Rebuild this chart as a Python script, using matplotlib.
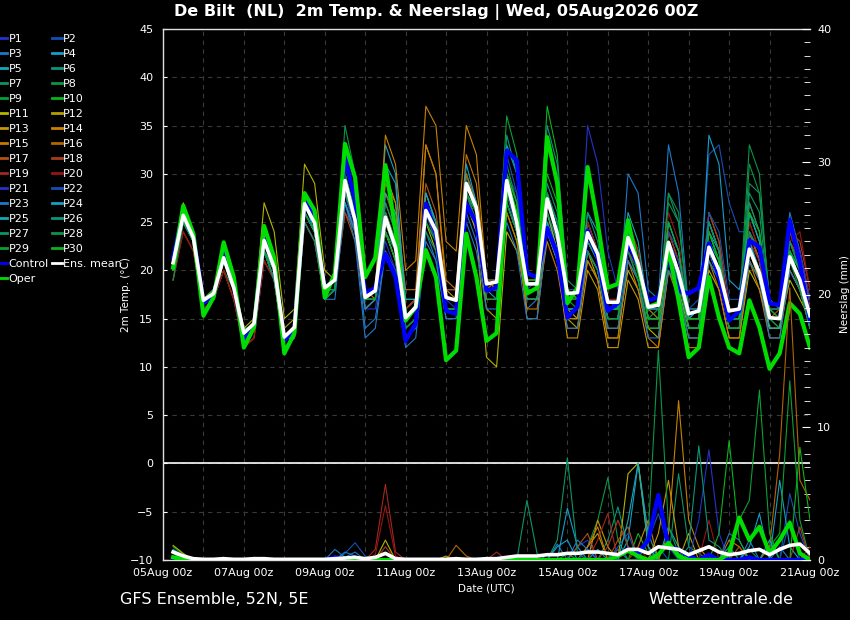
import numpy as np
import matplotlib
matplotlib.use("Agg")
import matplotlib.pyplot as plt
from matplotlib.lines import Line2D
from matplotlib.ticker import MultipleLocator

# forecast steps (hours after 05Aug2026 00z), 6-hourly
hours = list(range(6, 385, 6))
date_labels = ['05Aug 00z', '07Aug 00z', '09Aug 00z', '11Aug 00z', '13Aug 00z',
               '15Aug 00z', '17Aug 00z', '19Aug 00z', '21Aug 00z']

# 2m temperature (deg C), perturbed members
p1 = [21,26,24, 17,18,21,18, 13,14,23,20, 13,14,27,25, 18,18,28,24, 16,17,24,21, 15,16,25,23, 17,16,27,25, 18,18,30,28, 19,19,26,22, 17,17,35,31, 22,18,23,20, 16,16,21,19, 15,15,23,21, 16,16,24,21, 15,14,20,18, 15]
p2 = [20,25,23, 17,17,21,18, 14,14,22,20, 13,14,26,24, 18,19,28,25, 17,18,25,22, 16,17,27,24, 17,17,29,26, 19,19,28,24, 18,18,26,23, 17,17,23,21, 16,16,23,21, 16,16,22,20, 16,17,32,33, 27,24,24,21, 16,16,22,20, 16]
p3 = [20,26,23, 17,17,21,18, 13,14,22,19, 13,13,26,24, 17,18,27,24, 14,15,22,20, 13,14,24,21, 15,15,26,23, 17,17,27,24, 16,17,24,21, 15,15,22,20, 15,15,30,28, 18,17,33,28, 16,16,24,21, 15,15,26,23, 15,15,26,22, 16]
p4 = [20,25,23, 17,18,21,18, 13,14,23,20, 13,14,27,24, 18,19,29,25, 17,18,33,30, 16,17,27,25, 18,18,30,26, 19,18,29,25, 18,18,27,24, 17,17,24,22, 16,16,23,21, 16,16,22,20, 15,16,34,31, 19,18,24,21, 15,15,22,19, 15]
p5 = [21,26,24, 16,17,21,18, 13,14,22,19, 12,13,25,23, 17,18,27,24, 16,17,24,21, 14,15,26,23, 16,16,28,25, 18,18,28,25, 18,18,28,25, 18,17,25,22, 16,16,24,21, 15,15,23,20, 15,15,24,22, 15,15,22,19, 14,14,21,19, 14]
p6 = [20,26,23, 17,17,21,18, 14,14,23,20, 13,14,26,24, 18,19,30,26, 17,18,26,23, 15,16,27,24, 17,17,30,27, 19,19,30,26, 19,19,29,26, 18,17,23,21, 17,16,22,20, 15,15,25,22, 15,16,25,22, 16,16,24,21, 15,15,22,19, 15]
p7 = [19,25,23, 17,17,20,18, 13,14,22,19, 12,13,26,24, 17,18,28,25, 17,18,24,22, 15,16,25,23, 16,16,28,26, 18,18,29,25, 18,18,26,22, 16,16,22,20, 15,15,22,19, 14,14,22,19, 14,14,21,19, 15,15,29,28, 17,16,23,20, 16]
p8 = [20,26,23, 17,17,21,18, 13,14,23,20, 13,14,27,25, 18,19,35,30, 17,17,24,21, 15,16,26,24, 17,17,28,26, 19,19,31,27, 18,18,27,24, 17,17,23,21, 16,16,23,20, 16,15,27,25, 16,16,24,21, 16,16,33,30, 16,15,22,19, 15]
p9 = [20,26,23, 17,17,21,18, 13,14,22,20, 13,13,26,24, 17,18,30,26, 16,17,26,23, 14,15,26,24, 16,16,29,27, 18,19,36,32, 19,19,27,24, 17,17,24,21, 16,16,23,21, 15,16,23,20, 15,15,24,21, 15,15,23,20, 15,15,21,19, 16]
p10 = [21,26,23, 17,18,22,19, 13,14,23,20, 13,14,27,25, 18,19,29,25, 17,18,25,22, 15,16,25,23, 17,17,28,25, 18,18,29,26, 19,19,37,32, 18,17,25,22, 16,16,24,21, 16,16,22,20, 15,15,24,21, 15,15,26,23, 15,14,22,19, 15]
p11 = [21,27,24, 17,18,22,19, 14,15,27,24, 15,16,31,29, 20,19,28,25, 17,18,24,21, 15,16,25,22, 16,16,27,24, 11,10,24,22, 17,17,26,22, 16,15,21,19, 14,14,20,18, 14,13,21,18, 14,14,20,18, 13,13,20,18, 14,14,19,17, 15]
p12 = [20,25,23, 16,17,21,18, 13,14,24,21, 14,15,28,26, 18,19,27,24, 17,18,26,23, 15,16,26,24, 17,17,27,24, 16,15,26,23, 17,17,25,22, 15,14,22,19, 13,13,21,19, 14,14,22,20, 14,14,23,20, 14,14,21,19, 15,15,23,21, 16]
p13 = [20,26,23, 17,17,21,18, 13,14,22,20, 13,14,27,25, 18,19,28,25, 17,18,30,27, 16,17,33,30, 18,17,28,26, 17,17,28,25, 15,15,24,21, 13,13,20,18, 12,12,19,17, 12,12,20,18, 13,13,22,19, 14,14,22,19, 14,14,20,18, 14]
p14 = [21,26,24, 17,17,21,18, 13,14,23,20, 13,14,27,25, 18,19,29,25, 17,18,34,31, 20,21,37,35, 23,22,35,32, 19,18,27,24, 17,17,24,21, 15,15,22,20, 15,15,23,20, 15,15,24,21, 16,16,25,22, 16,16,24,21, 15,15,21,19, 16]
p15 = [20,26,24, 17,17,21,18, 13,14,22,19, 12,13,26,24, 17,18,27,24, 18,17,29,27, 18,18,33,30, 19,18,32,29, 19,18,26,23, 16,16,23,20, 14,14,21,19, 13,13,21,18, 13,12,20,17, 12,12,21,18, 13,13,21,18, 13,13,20,18, 14]
p16 = [20,26,23, 17,17,21,18, 13,14,22,19, 13,14,26,24, 18,19,27,24, 17,17,28,25, 16,17,28,25, 17,17,30,27, 18,18,27,24, 17,17,27,24, 16,16,24,21, 16,16,25,22, 16,15,23,20, 15,15,26,23, 16,16,27,24, 16,16,24,21, 17]
p17 = [20,25,23, 16,17,20,17, 12,13,21,19, 12,13,25,23, 17,18,26,23, 16,17,27,24, 16,17,29,26, 18,18,28,25, 18,19,30,27, 19,19,28,24, 18,17,25,22, 16,16,24,21, 15,15,23,20, 15,15,25,22, 15,15,24,21, 15,16,24,22, 17]
p18 = [19,24,22, 16,17,20,17, 12,13,21,19, 12,13,25,23, 17,18,26,24, 16,17,25,22, 15,16,27,25, 17,17,28,25, 18,18,30,27, 18,18,27,24, 17,17,23,21, 16,16,22,20, 15,15,22,20, 15,15,26,23, 16,16,25,22, 16,16,24,23, 18]
p19 = [20,25,23, 17,17,21,18, 13,14,22,20, 13,14,26,24, 18,18,28,25, 17,18,26,23, 16,17,26,24, 17,17,29,26, 19,19,29,26, 19,19,27,24, 18,18,24,22, 17,17,25,22, 16,16,24,21, 16,16,23,20, 15,15,23,21, 15,15,23,21, 16]
p20 = [19,24,22, 16,17,20,17, 12,13,21,19, 12,13,25,23, 17,18,27,24, 16,17,25,22, 15,16,26,23, 16,16,27,25, 18,18,28,25, 18,18,27,24, 17,17,25,22, 16,16,24,21, 16,16,26,23, 16,16,25,22, 16,16,25,22, 15,15,23,24, 18]
p21 = [20,26,23, 17,17,21,18, 13,14,22,20, 13,14,26,24, 17,18,28,24, 16,16,23,20, 14,15,24,22, 16,16,27,25, 18,18,28,25, 18,18,25,22, 16,16,22,20, 15,15,22,19, 15,15,23,21, 16,16,23,20, 15,15,24,22, 16,16,25,22, 17]
p22 = [20,25,23, 17,17,21,18, 13,14,22,19, 13,14,26,24, 18,18,29,25, 17,17,25,22, 15,16,26,23, 16,16,28,25, 18,18,32,28, 18,19,28,25, 18,18,24,21, 17,16,23,21, 16,16,24,22, 16,16,26,24, 17,17,23,20, 15,15,21,19, 15]
p23 = [20,25,23, 17,17,21,18, 13,14,22,19, 13,13,26,24, 17,17,27,23, 13,14,22,19, 12,13,23,21, 15,15,25,22, 16,16,25,22, 15,15,24,21, 14,14,22,20, 14,14,21,19, 13,13,20,18, 13,13,21,19, 14,14,21,19, 13,13,20,18, 14]
p24 = [20,26,23, 17,17,21,18, 13,14,22,20, 13,14,26,24, 17,18,27,24, 16,17,31,29, 17,17,28,25, 17,17,31,27, 18,17,33,30, 18,18,28,24, 16,16,26,24, 16,16,24,21, 15,15,25,22, 15,16,25,22, 15,15,26,23, 15,15,23,20, 15]
p25 = [20,25,23, 17,17,21,18, 13,14,22,20, 13,14,26,24, 17,18,29,26, 17,17,28,26, 17,17,28,25, 17,17,29,26, 18,18,27,24, 17,17,25,22, 16,16,23,21, 16,16,26,23, 16,16,23,20, 14,14,22,19, 14,14,23,20, 14,14,22,20, 15]
p26 = [20,26,23, 17,17,21,18, 13,14,22,19, 12,13,25,23, 17,18,29,25, 17,17,27,24, 15,16,27,24, 16,16,29,26, 18,18,34,30, 20,19,35,31, 19,18,26,23, 16,16,24,21, 15,15,28,25, 16,16,25,22, 15,15,27,24, 15,15,21,19, 14]
p27 = [20,26,23, 17,17,21,18, 13,14,22,20, 13,14,26,24, 18,18,28,25, 17,17,26,23, 15,16,27,25, 17,17,28,26, 18,18,27,24, 17,17,26,23, 16,16,23,21, 15,15,24,21, 15,15,23,20, 15,15,25,22, 15,15,28,26, 16,16,22,19, 15]
p28 = [19,25,23, 17,17,21,18, 13,14,22,19, 12,13,26,24, 17,18,28,25, 17,18,25,22, 15,16,25,23, 16,16,28,25, 18,18,27,24, 18,18,28,25, 17,17,24,21, 15,15,23,21, 15,15,28,26, 15,15,23,21, 15,15,31,28, 17,16,23,20, 15]
p29 = [20,26,23, 17,17,21,18, 13,14,22,20, 13,13,26,24, 18,19,30,26, 17,17,24,21, 14,15,24,22, 16,16,27,25, 17,17,30,27, 19,19,28,24, 17,16,22,20, 15,15,22,19, 14,14,21,19, 14,14,22,20, 14,14,24,22, 15,15,21,18, 14]
p30 = [20,26,24, 17,18,22,19, 14,14,23,20, 13,14,27,25, 18,19,31,27, 17,18,25,22, 15,16,26,24, 17,17,29,26, 18,18,30,27, 19,19,30,27, 18,17,24,22, 16,16,23,21, 15,15,25,22, 15,15,23,21, 15,15,26,24, 16,15,22,20, 15]

control_t = [21.3, 26.2, 23.8, 16.6, 17.4, 21.9, 18.6, 12.7, 14.1, 23.8, 20.7, 12.7, 14.0, 27.2, 25.5, 17.9,
             19.3, 31.7, 27.2, 17.6, 18.2, 21.7, 19.3, 12.7, 14.5, 26.9, 23.8, 15.8, 15.5, 26.9, 24.9, 17.9,
             18.2, 32.4, 31.4, 19.7, 19.3, 24.4, 21.7, 15.1, 16.2, 24.1, 21.3, 15.8, 16.6, 23.1, 20.3, 16.9,
             17.2, 21.3, 17.9, 17.6, 18.2, 22.8, 19.3, 14.8, 15.8, 23.1, 22.4, 16.6, 16.4, 25.2, 20.7, 14.8]
oper_t = [20.3, 26.7, 23.8, 15.3, 17.2, 22.9, 19.3, 12.0, 14.1, 24.6, 21.3, 11.4, 13.5, 28.0, 26.2, 17.2,
          19.7, 33.1, 29.6, 19.3, 21.3, 30.9, 24.1, 14.8, 16.2, 22.1, 19.3, 10.7, 11.7, 23.8, 19.3, 12.7,
          13.5, 29.0, 25.5, 17.6, 18.2, 33.8, 29.0, 16.6, 18.2, 30.7, 24.9, 18.2, 18.6, 25.2, 20.3, 16.2,
          16.6, 22.1, 16.9, 11.0, 12.0, 19.3, 15.1, 12.0, 11.4, 16.9, 14.1, 9.8, 11.4, 16.6, 15.5, 12.0]
mean_t = [20.8, 25.7, 23.4, 16.9, 17.6, 21.3, 18.2, 13.5, 14.5, 23.1, 20.3, 13.1, 14.1, 26.9, 24.9, 18.2,
          19.0, 29.3, 25.2, 17.2, 17.9, 25.5, 22.4, 15.1, 16.2, 26.2, 24.1, 17.2, 16.9, 29.0, 26.5, 18.6,
          18.8, 29.3, 24.9, 18.6, 18.6, 27.4, 23.8, 17.6, 17.7, 23.9, 21.7, 16.7, 16.7, 23.4, 20.7, 16.2,
          16.4, 22.9, 19.7, 15.5, 15.8, 22.4, 20.0, 15.8, 16.0, 22.2, 19.7, 15.1, 15.0, 21.4, 19.0, 15.3]

# 6-hourly precipitation (mm): {step index: amount}, zero elsewhere
rain_p1 = {0: 0.3, 40: 1.0, 41: 1.5, 53: 0.5}
rain_p2 = {17: 0.5, 18: 1.3, 19: 0.3, 47: 1.5, 48: 3.5, 49: 1.0, 61: 5.0, 62: 2.0}
rain_p3 = {16: 0.8, 17: 0.2, 18: 0.6, 38: 1.2, 44: 0.8, 57: 1.5, 60: 1.0}
rain_p4 = {16: 0.3, 39: 3.9, 40: 1.0, 45: 1.5, 46: 7.3, 47: 2.0, 60: 6.0, 61: 1.0}
rain_p5 = {0: 0.8, 1: 0.3, 42: 0.8, 49: 2.5, 50: 1.0}
rain_p6 = {0: 0.5, 43: 1.5, 44: 4.0, 45: 1.0, 55: 1.0}
rain_p7 = {35: 4.5, 36: 0.5, 50: 6.5, 51: 1.0, 52: 0.5}
rain_p8 = {5: 0.2, 41: 1.0, 42: 3.0, 43: 6.2, 44: 1.5, 57: 0.8}
rain_p9 = {0: 1.0, 1: 0.4, 59: 1.0, 60: 2.0, 61: 13.5, 62: 3.0}
rain_p10 = {0: 0.6, 5: 0.2, 39: 0.5, 46: 2.0, 47: 0.5}
rain_p11 = {0: 1.1, 1: 0.5, 8: 0.2, 21: 1.5, 45: 6.5, 46: 7.3, 47: 1.0}
rain_p12 = {9: 0.2, 41: 1.0, 42: 2.0, 51: 2.0}
rain_p13 = {27: 0.3, 42: 3.0, 43: 1.0, 48: 2.0, 49: 6.0, 50: 1.0}
rain_p14 = {46: 1.0, 47: 3.0, 49: 2.0, 50: 12.0, 51: 3.0, 52: 1.0}
rain_p15 = {41: 1.0, 42: 2.5, 55: 1.5, 56: 1.0}
rain_p16 = {28: 1.1, 29: 0.3, 59: 1.0, 60: 8.0, 61: 20.5, 62: 6.0, 63: 4.5}
rain_p17 = {40: 1.0, 41: 2.0, 44: 1.5, 45: 2.5, 56: 1.0}
rain_p18 = {21: 1.0, 43: 1.0, 44: 3.0, 45: 1.0, 62: 2.5}
rain_p19 = {20: 0.8, 21: 5.7, 22: 0.6, 32: 0.6, 42: 1.5, 43: 3.5, 63: 1.0}
rain_p20 = {20: 0.4, 21: 4.1, 22: 0.3, 46: 1.0, 53: 3.0}
rain_p21 = {41: 0.8, 52: 3.0, 53: 8.3, 54: 2.0}
rain_p22 = {44: 1.0, 45: 2.0, 48: 1.0, 61: 3.0}
rain_p23 = {17: 0.6, 18: 0.3, 40: 1.5, 41: 0.8, 55: 2.0, 56: 1.5}
rain_p24 = {38: 1.0, 39: 1.5, 57: 1.0, 58: 3.5}
rain_p25 = {45: 3.0, 46: 7.3, 47: 1.0, 59: 1.5}
rain_p26 = {51: 1.0, 52: 8.6, 53: 1.5, 54: 1.0}
rain_p27 = {38: 1.5, 39: 7.7, 40: 0.5, 55: 1.0}
rain_p28 = {47: 2.0, 48: 15.8, 49: 2.5, 50: 0.5}
rain_p29 = {56: 3.0, 57: 4.5, 58: 12.8, 59: 2.0}
rain_p30 = {0: 0.5, 54: 2.0, 55: 9.0, 56: 1.5, 62: 8.5, 63: 3.0}
rain_control = {16: 0.2, 44: 0.3, 45: 0.8, 46: 0.5, 47: 1.5, 48: 4.9, 49: 1.0, 50: 0.8, 51: 0.3, 53: 0.4, 57: 0.2}
rain_oper = {0: 0.2, 44: 0.3, 45: 0.7, 46: 0.3, 48: 0.4, 49: 1.3, 50: 0.3, 55: 0.5, 56: 3.2, 57: 1.5,
             58: 2.5, 59: 0.5, 60: 1.5, 61: 2.8, 62: 0.5}
rain_mean = [0.6, 0.3, 0.1, 0.05, 0.05, 0.1, 0.05, 0.05, 0.1, 0.1, 0.05, 0.05, 0.05, 0.05, 0.05, 0.05,
             0.1, 0.15, 0.2, 0.1, 0.2, 0.5, 0.1, 0.05, 0.05, 0.05, 0.05, 0.05, 0.1, 0.05, 0.05, 0.1,
             0.1, 0.2, 0.3, 0.3, 0.3, 0.4, 0.4, 0.5, 0.5, 0.6, 0.6, 0.5, 0.4, 0.8, 0.8, 0.5,
             1.0, 0.9, 0.8, 0.4, 0.7, 1.0, 0.6, 0.4, 0.5, 0.7, 0.8, 0.4, 0.8, 1.1, 1.2, 0.5]

member_colors = ['#2233cc', '#1450b4', '#1e78c8', '#14a0c8', '#14aab4', '#0a9678', '#0a9664',
                 '#0a9646', '#0aa032', '#0ab41e', '#b4b400', '#b4a000', '#c89600', '#c88200',
                 '#c87800', '#b46400', '#b45014', '#aa3c1e', '#a0281e', '#961414']

members_t = [p1, p2, p3, p4, p5, p6, p7, p8, p9, p10, p11, p12, p13, p14, p15,
             p16, p17, p18, p19, p20, p21, p22, p23, p24, p25, p26, p27, p28, p29, p30]
members_r = [rain_p1, rain_p2, rain_p3, rain_p4, rain_p5, rain_p6, rain_p7, rain_p8, rain_p9, rain_p10,
             rain_p11, rain_p12, rain_p13, rain_p14, rain_p15, rain_p16, rain_p17, rain_p18, rain_p19, rain_p20,
             rain_p21, rain_p22, rain_p23, rain_p24, rain_p25, rain_p26, rain_p27, rain_p28, rain_p29, rain_p30]


def full_rain(spikes):
    r = np.zeros(len(hours))
    for k, v in spikes.items():
        r[k] = v
    return r


W = 850.0
H = 620.0
fig = plt.figure(figsize=(8.5, 6.2), dpi=100, facecolor='black')
ax = fig.add_axes([163/W, 1-560/H, (810-163)/W, (560-29)/H])
ax.set_facecolor('black')
ax2 = ax.twinx()

gridc = '#3a3a34'
ax.set_xlim(0, 384)
ax.set_ylim(-10, 45)
ax2.set_ylim(0, 40)
ax.set_xticks(range(0, 385, 48))
ax.set_xticklabels(date_labels)
ax.xaxis.set_minor_locator(MultipleLocator(24))
ax.set_yticks(range(-10, 46, 5))
ax.grid(which='both', axis='x', color=gridc, linestyle=(0, (4, 4)), linewidth=0.8)
ax.grid(which='major', axis='y', color=gridc, linestyle=(0, (4, 4)), linewidth=0.8)
ax.axhline(0, color='white', lw=1.2, zorder=1.8)

ax.tick_params(axis='x', which='both', length=0, colors='white', labelsize=8, pad=6)
ax.tick_params(axis='y', direction='in', length=3, colors='white', labelsize=8, pad=7)
ax2.yaxis.set_major_locator(MultipleLocator(10))
ax2.yaxis.set_minor_locator(MultipleLocator(1))
ax2.tick_params(axis='y', which='major', direction='in', length=6, colors='white', labelsize=8, pad=5)
ax2.tick_params(axis='y', which='minor', direction='in', length=4, colors='white')

for s in ['left', 'bottom', 'top']:
    ax.spines[s].set_color('#e0e0e0')
    ax.spines[s].set_linewidth(1.0)
ax.spines['right'].set_visible(False)
for s in ax2.spines.values():
    s.set_visible(False)

# members: temperature on the left axis, precipitation on the right one
handles = []
for i, vals in enumerate(members_t):
    c = member_colors[i % 20]
    ax.plot(hours, vals, color=c, lw=0.8, zorder=2)
    ax2.plot(hours, full_rain(members_r[i]), color=c, lw=0.8, zorder=2)
    handles.append(Line2D([], [], color=c, lw=2))

ax.plot(hours, control_t, color='#0000ff', lw=3, zorder=3)
ax.plot(hours, oper_t, color='#00dd00', lw=3, zorder=4)
ax.plot(hours, mean_t, color='white', lw=2.6, zorder=5)
ax2.plot(hours, full_rain(rain_control), color='#0000ff', lw=3, zorder=3)
ax2.plot(hours, full_rain(rain_oper), color='#00dd00', lw=3, zorder=4)
ax2.plot(hours, rain_mean, color='white', lw=2.6, zorder=5)

ax.set_ylabel('2m Temp. (°C)', color='white', fontsize=7.5)
ax.yaxis.set_label_coords((131 - 163) / 647, 0.5)
ax2.set_ylabel('Neerslag (mm)', color='white', fontsize=7.5)
ax2.yaxis.set_label_coords((840 - 163) / 647, 0.5)
ax.set_xlabel('Date (UTC)', color='white', fontsize=7.5, labelpad=4)

# legend: row-major P1 P2 / P3 P4 ...
labels = ['P%d' % (i + 1) for i in range(30)]
col1_h = [handles[i] for i in range(0, 30, 2)] + [Line2D([], [], color='#0000ff', lw=2),
                                                   Line2D([], [], color='#00dd00', lw=2)]
col1_l = [labels[i] for i in range(0, 30, 2)] + ['Control', 'Oper']
col2_h = [handles[i] for i in range(1, 30, 2)] + [Line2D([], [], color='white', lw=2)]
col2_l = [labels[i] for i in range(1, 30, 2)] + ['Ens. mean']
leg = fig.legend(col1_h + col2_h, col1_l + col2_l, ncol=2, loc='upper left',
                 bbox_to_anchor=(-0.003, 1 - 34/H), frameon=False, fontsize=8,
                 handlelength=0.9, handletextpad=0.1, columnspacing=0.3,
                 labelspacing=0.45, borderpad=0, borderaxespad=0, labelcolor='white')

fig.text(436/W, 1 - 12/H, 'De Bilt  (NL)  2m Temp. & Neerslag | Wed, 05Aug2026 00Z',
         color='white', fontsize=11.5, fontweight='bold', ha='center', va='center')
fig.text(120/W, 1 - 599/H, 'GFS Ensemble, 52N, 5E', color='white', fontsize=11.5,
         ha='left', va='center')
fig.text(721/W, 1 - 599/H, 'Wetterzentrale.de', color='white', fontsize=11.5,
         ha='center', va='center')

fig.savefig('out.png', dpi=100, facecolor='black')
